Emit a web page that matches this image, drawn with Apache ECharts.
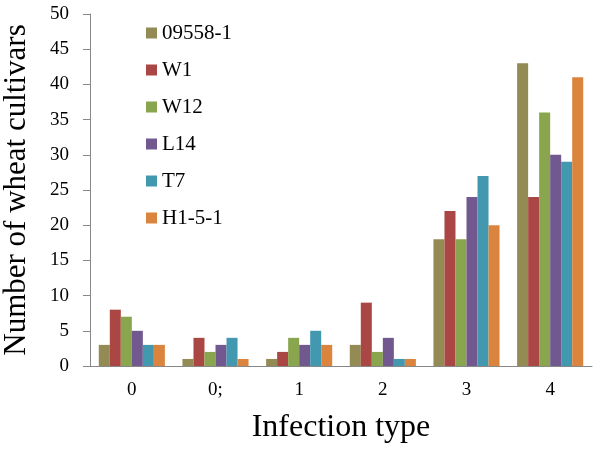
<!DOCTYPE html>
<html><head><meta charset="utf-8">
<script src="https://cdn.jsdelivr.net/npm/echarts@6/dist/echarts.min.js"></script>
<style>html,body{margin:0;padding:0;background:#fff}#c{width:600px;height:451px}</style>
</head><body><div id="c"></div>
<script>
const categories = ['0', '0;', '1', '2', '3', '4'];
const seriesNames = ['09558-1', 'W1', 'W12', 'L14', 'T7', 'H1-5-1'];
const s09558 = [3, 1, 1, 3, 18, 43];
const sW1 = [8, 4, 2, 9, 22, 24];
const sW12 = [7, 2, 4, 2, 18, 36];
const sL14 = [5, 3, 3, 4, 24, 30];
const sT7 = [3, 4, 5, 1, 27, 29];
const sH151 = [3, 1, 3, 1, 20, 41];
const yTicks = [0, 5, 10, 15, 20, 25, 30, 35, 40, 45, 50];

const allData = [s09558, sW1, sW12, sL14, sT7, sH151];
const colors = ['#948A54', '#AA4643', '#89A54E', '#71588F', '#4198AF', '#DB843D'];
const font = "'Liberation Serif', 'Times New Roman', serif";
const chart = echarts.init(document.getElementById('c'));
chart.setOption({
  animation: false,
  color: colors,
  textStyle: { fontFamily: font },
  grid: { left: 90, right: 8, top: 14, bottom: 85, containLabel: false, outerBoundsMode: 'none' },
  legend: {
    orient: 'vertical', left: 141, top: 17,
    itemWidth: 11, itemHeight: 11, itemGap: 15, icon: 'rect',
    textStyle: { fontFamily: font, fontSize: 21, color: '#000', lineHeight: 22 },
    data: seriesNames
  },
  xAxis: {
    type: 'category', data: categories,
    name: 'Infection type', nameLocation: 'middle', nameGap: 46,
    nameTextStyle: { fontFamily: font, fontSize: 32, color: '#000' },
    axisLine: { lineStyle: { color: '#888' } },
    axisTick: { alignWithLabel: false, length: 6, lineStyle: { color: '#888' } },
    axisLabel: { fontFamily: font, fontSize: 19, color: '#000', margin: 15 }
  },
  yAxis: {
    type: 'value', min: 0, max: 50, interval: 5,
    name: 'Number of wheat cultivars', nameLocation: 'middle', nameGap: 58,
    nameTextStyle: { fontFamily: font, fontSize: 31, color: '#000' },
    axisLine: { show: true, lineStyle: { color: '#888' } },
    axisTick: { show: true, length: 7, lineStyle: { color: '#888' } },
    axisLabel: { fontFamily: font, fontSize: 19, color: '#000', margin: 21,
      formatter: v => yTicks.includes(v) ? String(v) : '' },
    splitLine: { show: false }
  },
  series: seriesNames.map((n, i) => ({
    name: n, type: 'bar', data: allData[i],
    barGap: '0%', barCategoryGap: '21%'
  }))
});
</script></body></html>
